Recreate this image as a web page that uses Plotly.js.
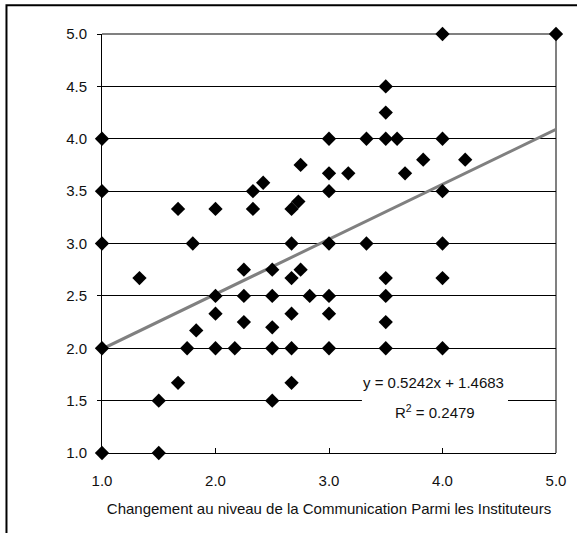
<!DOCTYPE html>
<html>
<head>
<meta charset="utf-8">
<script src="https://cdn.plot.ly/plotly-3.0.1.min.js"></script>
<style>html,body{margin:0;padding:0;background:#fff;} #chart{width:577px;height:533px;}</style>
</head>
<body>
<div id="chart"></div>
<script>
// Communication change (x) vs response (y)
const xValues = [1.0,1.0,1.0,1.0,1.0,1.33,1.5,1.5,1.67,1.67,1.75,1.8,1.83,2.0,2.0,2.0,2.0,2.17,2.25,2.25,2.25,2.33,2.33,2.42,2.5,2.5,2.5,2.5,2.5,2.67,2.67,2.67,2.67,2.67,2.67,2.73,2.75,2.75,2.83,3.0,3.0,3.0,3.0,3.0,3.0,3.0,3.17,3.33,3.33,3.5,3.5,3.5,3.5,3.5,3.5,3.5,3.6,3.67,3.83,4.0,4.0,4.0,4.0,4.0,4.0,4.2,5.0];
const yValues = [4.0,3.5,3.0,2.0,1.0,2.67,1.5,1.0,3.33,1.67,2.0,3.0,2.17,3.33,2.5,2.33,2.0,2.0,2.75,2.5,2.25,3.5,3.33,3.58,2.75,2.5,2.2,2.0,1.5,3.33,3.0,2.67,2.33,2.0,1.67,3.4,3.75,2.75,2.5,4.0,3.67,3.5,3.0,2.5,2.33,2.0,3.67,4.0,3.0,4.5,4.25,4.0,2.67,2.5,2.25,2.0,4.0,3.67,3.8,5.0,4.0,3.5,3.0,2.67,2.0,3.8,5.0];
const trendSlope = 0.5242;
const trendIntercept = 1.4683;
const rSquared = 0.2479;
const xTickVals = [1,2,3,4,5];
const yTickVals = [1,1.5,2,2.5,3,3.5,4,4.5,5];
const xTitle = "Changement au niveau de la Communication Parmi les Instituteurs";

const FONT = '"Liberation Sans", Arial, sans-serif';
const xr = [1,5];
const trendX = xr.slice();
const trendY = trendX.map(v => trendSlope*v + trendIntercept);

const traces = [
  {x: trendX, y: trendY, mode:'lines', line:{color:'#808080', width:3}, hoverinfo:'skip', cliponaxis:false},
  {x: xValues, y: yValues, mode:'markers', marker:{symbol:'diamond', size:11, color:'#000'}, cliponaxis:false}
];

const layout = {
  width:577, height:533,
  margin:{l:102, r:21, t:34, b:80},
  paper_bgcolor:'#fff', plot_bgcolor:'#fff',
  showlegend:false,
  font:{family:FONT, size:15, color:'#111'},
  xaxis:{
    range:xr, tickvals:xTickVals, ticktext:xTickVals.map(v=>v.toFixed(1)),
    showgrid:false, zeroline:false,
    showline:true, linecolor:'#000', linewidth:1,
    ticks:'inside', ticklen:5, tickcolor:'#000',
    ticklabelstandoff:14,
    title:{text:xTitle, font:{family:FONT, size:15, color:'#111'}, standoff:15}
  },
  yaxis:{
    range:[1,5], tickvals:yTickVals, ticktext:yTickVals.map(v=>v.toFixed(1)),
    showgrid:true, gridcolor:'#000', gridwidth:1, zeroline:false,
    showline:true, linecolor:'#000', linewidth:1,
    ticks:'outside', ticklen:4, tickcolor:'#000',
    ticklabelstandoff:7
  },
  shapes:[
    // plot area border (top & right, gray)
    {type:'line', xref:'paper', yref:'paper', x0:0, x1:1, y0:1, y1:1, line:{color:'#808080', width:2}, layer:'between'},
    {type:'line', xref:'paper', yref:'paper', x0:1, x1:1, y0:0, y1:1, line:{color:'#808080', width:2}, layer:'between'},
    // chart area border
    {type:'rect', xref:'paper', yref:'paper', x0:-0.2104, x1:3, y0:-3, y1:1.0685, line:{color:'#000', width:2}},
    // label background
    {type:'rect', xref:'x', yref:'y', x0:3.29, x1:4.577, y0:1.44, y1:1.58, fillcolor:'#fff', line:{width:0}, layer:'above'}
  ],
  annotations:[
    {xref:'x', yref:'y', x:3.925, y:1.675, text:'y = '+trendSlope.toFixed(4)+'x + '+trendIntercept.toFixed(4), showarrow:false, font:{family:FONT, size:15, color:'#111'}},
    {xref:'x', yref:'y', x:3.935, y:1.395, text:'R<sup>2</sup> = '+rSquared.toFixed(4), showarrow:false, font:{family:FONT, size:15, color:'#111'}}
  ]
};

Plotly.newPlot('chart', traces, layout, {displayModeBar:false, staticPlot:true});
</script>
</body>
</html>
